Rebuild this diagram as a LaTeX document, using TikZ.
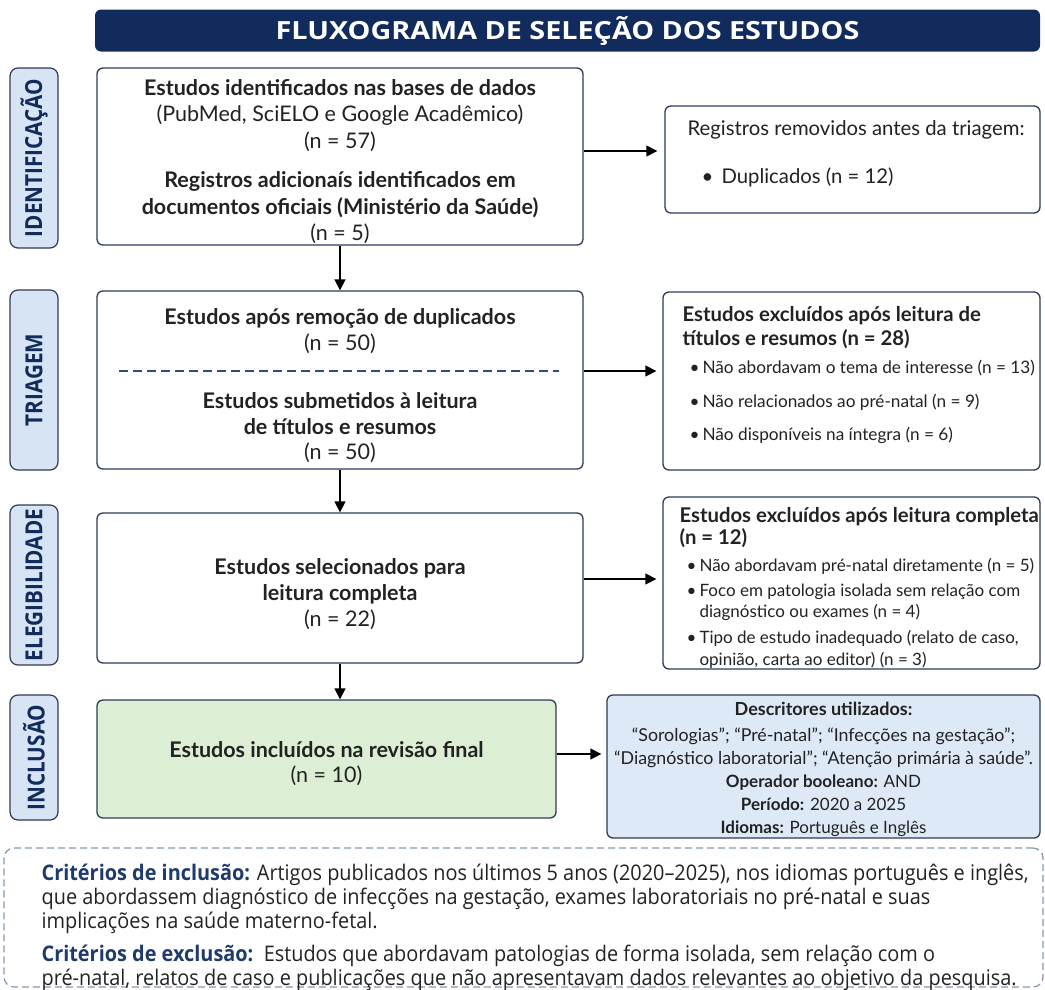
\documentclass[tikz,border=0pt]{standalone}
\usepackage{fontspec}
\setmainfont{Lato}
\newfontfamily\estreita[FakeStretch=0.88]{Open Sans}
\newfontfamily\larga[FakeStretch=1.15]{Open Sans}
\newfontfamily\criteriofont[FakeStretch=0.925]{Open Sans}
\usetikzlibrary{arrows.meta,positioning}

\definecolor{marinho}{HTML}{112B5C}
\definecolor{rotulofundo}{HTML}{D7E4F4}
\definecolor{borda}{HTML}{2E3B58}
\definecolor{verdeclaro}{HTML}{DCEFD5}
\definecolor{azulclaro}{HTML}{DEE9F7}
\definecolor{cinzatraco}{HTML}{8496B4}
\definecolor{texto}{HTML}{222222}
\definecolor{azulnegrito}{HTML}{1F3A6D}
\definecolor{azultraco}{HTML}{2F4B85}

\newcommand{\marca}{\makebox[20pt][l]{\hspace{7pt}\textbullet}}
\newcommand{\recuo}{\hspace*{20pt}}
\newcommand{\tit}{\bfseries\fontsize{20.3}{24}\selectfont}
\newcommand{\apertado}{\setlength{\lineskiplimit}{-8pt}}

\tikzset{
  caixa/.style={draw=borda, line width=1.3pt, rounded corners=6pt, fill=white,
    inner sep=0pt},
  miolo/.style={align=center, inner sep=0pt, text=texto},
  lista/.style={anchor=west, align=left, inner sep=0pt, text=texto},
  rotulo/.style={draw=borda, line width=1.2pt, rounded corners=8pt, fill=rotulofundo,
    rotate=90, minimum height=48pt, inner sep=0pt, text=marinho,
    font=\estreita\bfseries\fontsize{23.5}{23.5}\selectfont},
  seta/.style={-{Triangle[length=11pt,width=11pt]}, line width=1.3pt},
}

\begin{document}
\begin{tikzpicture}[x=1pt, y=-1pt]
  \useasboundingbox (0,0) rectangle (1045,989);

  % titulo
  \node[fill=marinho, rounded corners=6pt, minimum width=945pt, minimum height=42pt,
    inner sep=0pt, text=white, font=\larga\bfseries\fontsize{25}{25}\selectfont]
    (titulo) at (567.5,30.5) {FLUXOGRAMA DE SELEÇÃO DOS ESTUDOS};

  % fases
  \node[rotulo, minimum width=180pt] (faseId) at (34,158) {IDENTIFICAÇÃO};
  \node[rotulo, minimum width=180pt] (faseTri) at (34,380) {TRIAGEM};
  \node[rotulo, minimum width=160pt] (faseEleg) at (34,585) {ELEGIBILIDADE};
  \node[rotulo, minimum width=125pt] (faseInc) at (34,757.5) {INCLUSÃO};

  % coluna principal
  \node[caixa, minimum width=486pt, minimum height=177pt] (idBox) at (340,156.5) {};
  \node[miolo, font=\fontsize{21.5}{26.5}\selectfont] (idTxt) at ([yshift=-5pt]idBox.center)
    {{\bfseries Estudos identificados nas bases de dados}\\
     (PubMed, SciELO e Google Acadêmico)\\
     (n = 57)\\[13pt]
     {\bfseries Registros adicionaís identificados em}\\
     {\bfseries documentos oficiais (Ministério da Saúde)}\\
     (n = 5)};

  \node[caixa, minimum width=486pt, minimum height=178pt] (triBox) at (340,380) {};
  \node[miolo, font=\fontsize{21.5}{25.5}\selectfont] (triTxt) at ([yshift=-6pt]triBox.center)
    {{\bfseries Estudos após remoção de duplicados}\\
     (n = 50)\\[33pt]
     {\bfseries Estudos submetidos à leitura}\\
     {\bfseries de títulos e resumos}\\
     (n = 50)};
  \draw[azultraco, line width=1.3pt, dash pattern=on 9pt off 5pt]
    ([xshift=23pt,yshift=9pt]triBox.west) -- ([xshift=-25pt,yshift=9pt]triBox.east);

  \node[caixa, minimum width=486pt, minimum height=150pt] (elegBox) at (340,588) {};
  \node[miolo, font=\fontsize{21.5}{26}\selectfont] (elegTxt) at ([yshift=-6pt]elegBox.center)
    {{\bfseries Estudos selecionados para}\\
     {\bfseries leitura completa}\\
     (n = 22)};

  \node[caixa, fill=verdeclaro, minimum width=459pt, minimum height=118pt] (incBox)
    at (326.5,759) {};
  \node[miolo, font=\fontsize{21.5}{25}\selectfont] (incTxt) at ([yshift=-5pt]incBox.center)
    {{\bfseries Estudos incluídos na revisão final}\\
     (n = 10)};

  % coluna da direita
  \node[caixa, minimum width=375pt, minimum height=107pt] (remBox) at (852.5,159.5) {};
  \node[lista, font=\fontsize{20.3}{26}\selectfont] (remTxt)
    at ([xshift=23pt,yshift=5.5pt]remBox.west)
    {Registros removidos antes da triagem:\\[22pt]
     \makebox[34pt][l]{\hspace{14pt}\textbullet}Duplicados (n = 12)};

  \node[caixa, minimum width=377pt, minimum height=178pt] (excTri) at (851.5,381) {};
  \node[lista, font=\fontsize{17.2}{24}\selectfont] (excTriTxt)
    at ([xshift=20pt,yshift=5.5pt]excTri.west)
    {{\tit Estudos excluídos após leitura de}\\
     {\tit títulos e resumos (n = 28)}\\[4pt]
     \marca Não abordavam o tema de interesse (n = 13)\\[10pt]
     \marca Não relacionados ao pré-natal (n = 9)\\[9pt]
     \marca Não disponíveis na íntegra (n = 6)};

  \node[caixa, minimum width=377pt, minimum height=172pt] (excEleg) at (851.5,583) {};
  \node[lista, font=\fontsize{17}{21.5}\selectfont] (excElegTxt)
    at ([xshift=17pt,yshift=-4.5pt]excEleg.west)
    {{\tit Estudos excluídos após leitura completa}\\[0.5pt]
     {\tit (n = 12)}\\[5.5pt]
     \marca Não abordavam pré-natal diretamente (n = 5)\\[3.5pt]
     \marca Foco em patologia isolada sem relação com\\
     \recuo diagnóstico ou exames (n = 4)\\[4.5pt]
     \marca Tipo de estudo inadequado (relato de caso,\\
     \recuo opinião, carta ao editor) (n = 3)};

  \node[caixa, fill=azulclaro, minimum width=433pt, minimum height=143pt] (descBox)
    at (823.5,766.5) {};
  \node[miolo, font=\fontsize{17}{23}\selectfont] (descTxt) at ([yshift=-3pt]descBox.center)
    {{\bfseries\fontsize{18}{23}\selectfont Descritores utilizados:}\\[3pt]
     {\fontsize{17.8}{23}\selectfont “Sorologias”; “Pré-natal”; “Infecções na gestação”;}\\
     {\fontsize{17.8}{23}\selectfont “Diagnóstico laboratorial”; “Atenção primária à saúde”.}\\
     {\bfseries Operador booleano:} AND\\
     {\bfseries Período:} 2020 a 2025\\
     {\bfseries Idiomas:} Português e Inglês};

  % criterios
  \node[draw=cinzatraco, line width=1.2pt, dash pattern=on 7pt off 4pt,
    rounded corners=10pt, minimum width=1039pt, minimum height=139pt] (criterios)
    at (523.5,917.5) {};
  \node[lista, font=\criteriofont\fontsize{21.5}{24}\selectfont\apertado] (txtCrit)
    at ([xshift=38pt,yshift=-10pt]criterios.west)
    {{\color{azulnegrito}\bfseries Critérios de inclusão:} Artigos publicados nos últimos 5 anos (2020–2025), nos idiomas português e inglês,\\
     que abordassem diagnóstico de infecções na gestação, exames laboratoriais no pré-natal e suas\\
     implicações na saúde materno-fetal.\\[9pt]
     {\color{azulnegrito}\bfseries Critérios de exclusão:}\ \ Estudos que abordavam patologias de forma isolada, sem relação com o\\
     pré-natal, relatos de caso e publicações que não apresentavam dados relevantes ao objetivo da pesquisa.};

  % setas
  \draw[seta] (idBox) -- (triBox);
  \draw[seta] (triBox) -- (elegBox);
  \draw[seta] (elegBox.south) -- (elegBox.south |- incBox.north);
  \draw[seta, shorten >=7pt] ([yshift=5.5pt]idBox.east) coordinate (s1) -- (s1 -| remBox.west);
  \draw[seta, shorten >=6pt] ([yshift=9pt]triBox.east) coordinate (s2) -- (s2 -| excTri.west);
  \draw[seta, shorten >=6pt] ([yshift=9pt]elegBox.east) coordinate (s3) -- (s3 -| excEleg.west);
  \draw[seta, shorten >=5pt] ([yshift=5pt]incBox.east) coordinate (s4) -- (s4 -| descBox.west);
\end{tikzpicture}
\end{document}
